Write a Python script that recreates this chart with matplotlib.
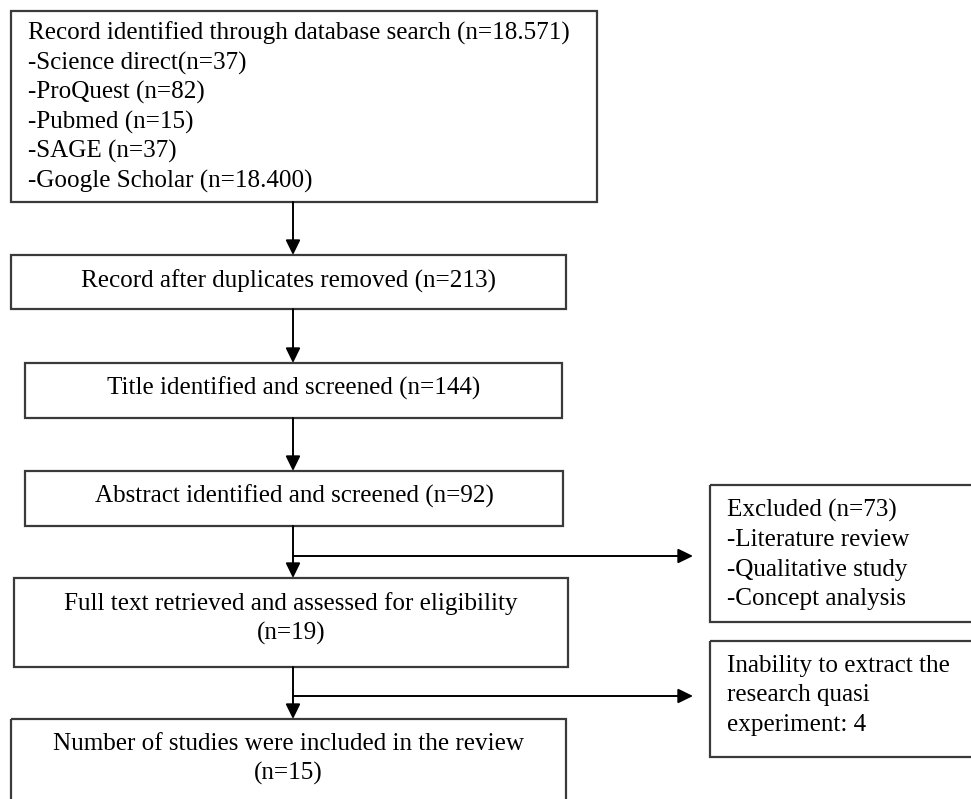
import matplotlib
matplotlib.use("Agg")
import matplotlib.pyplot as plt
from matplotlib.patches import Rectangle

# texts of the flow (PRISMA style)
search_lines = ["Record identified through database search (n=18.571)",
                "-Science direct(n=37)",
                "-ProQuest (n=82)",
                "-Pubmed (n=15)",
                "-SAGE (n=37)",
                "-Google Scholar (n=18.400)"]
step_texts = ["Record after duplicates removed (n=213)",
              "Title identified and screened (n=144)",
              "Abstract identified and screened (n=92)",
              "Full text retrieved and assessed for eligibility\n(n=19)",
              "Number of studies were included in the review\n(n=15)"]
excluded_lines = ["Excluded (n=73)", "-Literature review",
                  "-Qualitative study", "-Concept analysis"]
inability_lines = ["Inability to extract the", "research quasi", "experiment: 4"]

plt.rcParams['font.family'] = ['Liberation Serif', 'DejaVu Serif']

W, H = 971, 799
fig = plt.figure(figsize=(W / 100, H / 100), dpi=100)
ax = fig.add_axes([0, 0, 1, 1])
ax.set_xlim(0, W)
ax.set_ylim(H, 0)
ax.axis('off')

FS = 18.1
LS = 29.5
edge = '#3a3a3a'


def box(x0, y0, x1, y1):
    ax.add_patch(Rectangle((x0, y0), x1 - x0, y1 - y0, fill=False,
                           edgecolor=edge, lw=1.6))


def arrow(x0, y0, x1, y1):
    ax.annotate('', xy=(x1, y1), xytext=(x0, y0),
                arrowprops=dict(arrowstyle='-|>,head_length=0.45,head_width=0.22',
                                mutation_scale=20, color='black', lw=1.4,
                                shrinkA=0, shrinkB=0))


# left column boxes (x0, top, x1, bottom)
left_boxes = [(11, 255, 566, 309), (25, 363, 562, 418), (25, 471, 563, 526),
              (14, 578, 568, 667), (11, 719, 566, 830)]
first_baselines = [288, 395, 503, 610, 750]

box(11, 11, 597, 202)
for i, line in enumerate(search_lines):
    ax.text(28, 40 + i * LS, line, fontsize=FS, ha='left', va='baseline')

for (x0, y0, x1, y1), txt, bl in zip(left_boxes, step_texts, first_baselines):
    box(x0, y0, x1, y1)
    for j, line in enumerate(txt.split('\n')):
        ax.text((x0 + x1) / 2, bl + j * 30, line, fontsize=FS,
                ha='center', va='baseline')

# right side boxes
box(710, 485, 990, 622)
for i, line in enumerate(excluded_lines):
    ax.text(727, 517 + i * LS, line, fontsize=FS, ha='left', va='baseline')
box(710, 641, 990, 757)
for i, line in enumerate(inability_lines):
    ax.text(727, 672 + i * LS, line, fontsize=FS, ha='left', va='baseline')

# connectors
cx = 293
tops = [255, 363, 471, 578, 719]
bottoms = [202, 309, 418, 526, 667]
for b, t in zip(bottoms, tops):
    arrow(cx, b, cx, t)
for y in [556, 696]:
    arrow(cx, y, 693, y)

fig.savefig('out.png', dpi=100)
